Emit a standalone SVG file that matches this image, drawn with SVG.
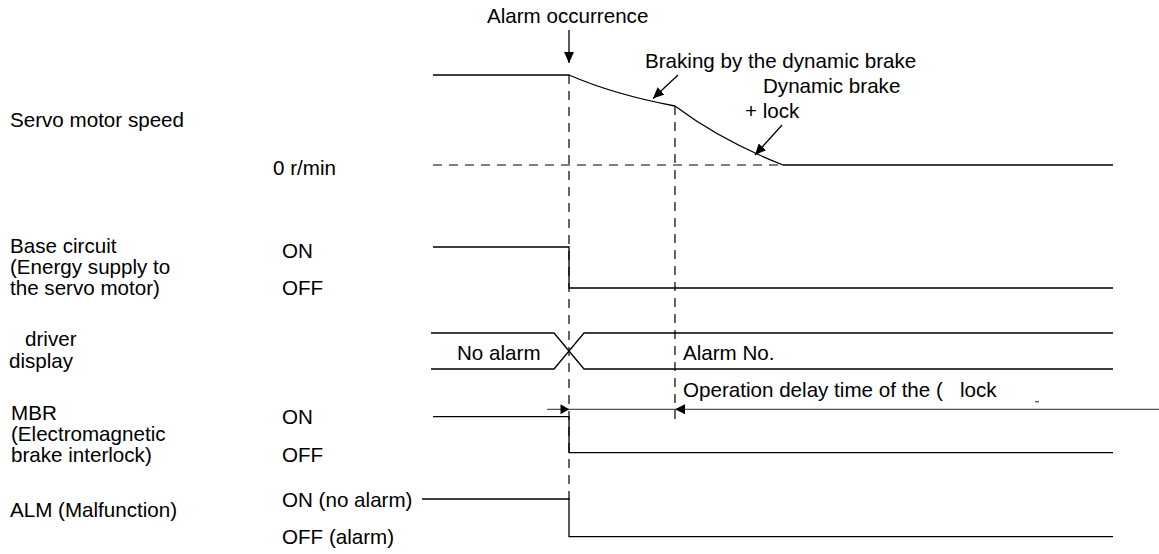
<svg xmlns="http://www.w3.org/2000/svg" width="1159" height="554" viewBox="0 0 1159 554">
<style>
text{font-family:"Liberation Sans",Arial,sans-serif;font-size:20.6px;fill:#000}
.ln{fill:none;stroke:#000;stroke-width:1.3}
.ds{fill:none;stroke:#000;stroke-width:1.2;stroke-dasharray:9 7}
.dim{fill:none;stroke:#555;stroke-width:1.3}
.ah{fill:#000;stroke:none}
</style>
<defs>
<marker id="arr" markerWidth="12" markerHeight="10" refX="11" refY="5" orient="auto" markerUnits="userSpaceOnUse">
<path d="M0,0 L11,5 L0,10 Z" fill="#000"/>
</marker>
</defs>
<rect width="1159" height="554" fill="#fff"/>

<g id="labels">
<text x="10" y="127">Servo motor speed</text>
<text x="273" y="175">0 r/min</text>
<text x="10" y="253">Base circuit</text>
<text x="10" y="274">(Energy supply to</text>
<text x="10" y="295">the servo motor)</text>
<text x="282" y="258">ON</text>
<text x="282" y="295">OFF</text>
<text x="25" y="346">driver</text>
<text x="9" y="368">display</text>
<text x="11" y="420">MBR</text>
<text x="11" y="441">(Electromagnetic</text>
<text x="11" y="462">brake interlock)</text>
<text x="282" y="424">ON</text>
<text x="282" y="462">OFF</text>
<text x="10" y="517">ALM (Malfunction)</text>
<text x="282" y="507">ON (no alarm)</text>
<text x="282" y="544">OFF (alarm)</text>
</g>

<g id="annotations">
<text x="487" y="23">Alarm occurrence</text>
<text x="645" y="68">Braking by the dynamic brake</text>
<text x="763" y="93">Dynamic brake</text>
<text x="745" y="118">+ lock</text>
<text x="457" y="360">No alarm</text>
<text x="683" y="360">Alarm No.</text>
<text x="683" y="397">Operation delay time of the</text>
<text x="936" y="397">(</text>
<text x="960" y="397">lock</text>
</g>

<g id="speed">
<path class="ln" d="M433,75 H569 Q614,94.5 675,106 Q721,140.5 783,165 H1113"/>
<path class="ds" d="M433,165 H783"/>
</g>

<g id="base-circuit">
<path class="ln" d="M433,247 H569 V288 H1113"/>
</g>

<g id="display">
<path class="ln" d="M431,333 H554 L584,369 H1113 M431,369 H554 L584,333 H1113"/>
</g>

<g id="mbr">
<path class="ln" d="M433,416.7 H569 V452.7 H1113"/>
</g>

<g id="alm">
<path class="ln" d="M422,499 H569 V536.7 H1113"/>
</g>

<g id="connectors">
<path class="ds" d="M569,75 V500"/>
<path class="ds" d="M675,106 V421"/>
<path class="ln" d="M569,30 V63" marker-end="url(#arr)"/>
<path class="ln" d="M678,75 L653,98.5" marker-end="url(#arr)"/>
<path class="ln" d="M782,125 L755,155" marker-end="url(#arr)"/>
<path class="dim" d="M547,409.3 H1159"/>
<path class="ah" d="M569.3,409.3 L560.5,404.3 L560.5,414.3 Z"/>
<path class="ah" d="M675,409.3 L685,404.3 L685,414.3 Z"/>
<path class="dim" d="M1035,401.7 H1039"/>
</g>
</svg>
